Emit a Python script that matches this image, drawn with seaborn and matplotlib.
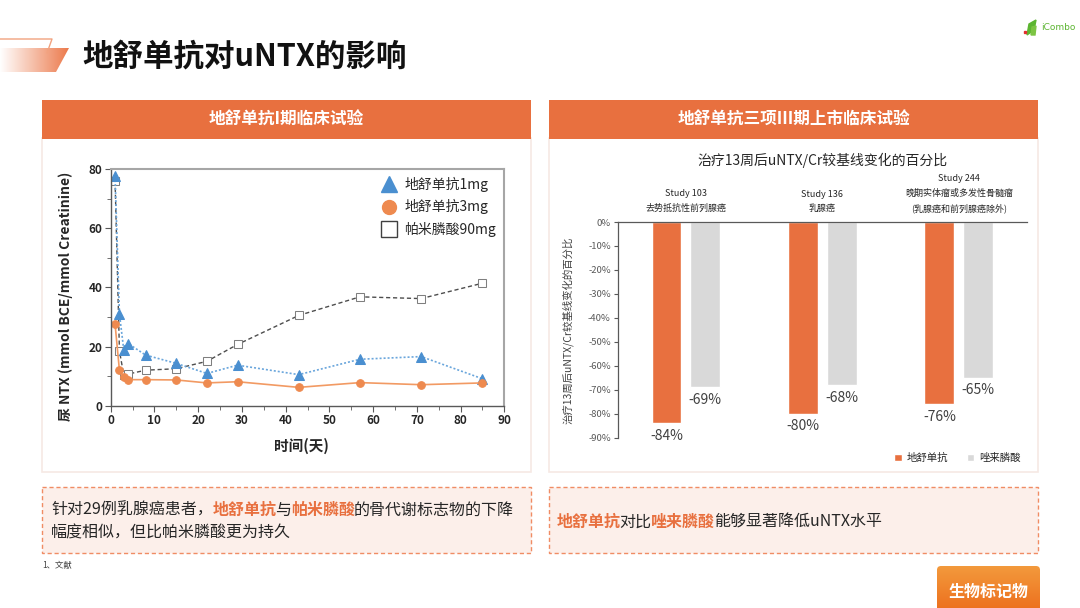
import numpy as np
import pandas as pd
import seaborn as sns
from matplotlib import pyplot as plt
from matplotlib.patches import Polygon, Rectangle, FancyBboxPatch, Patch
from matplotlib.lines import Line2D
from matplotlib.colors import LinearSegmentedColormap
from matplotlib.ticker import MultipleLocator, FuncFormatter

sns.set_style('white')
plt.rcParams['font.family'] = ['Noto Sans CJK SC', 'DejaVu Sans']
plt.rcParams['axes.unicode_minus'] = False

# %% data - phase I (left)
days = [1, 2, 3, 4, 8, 15, 22, 29, 43, 57, 71, 85]
dmab_1mg = [77.6, 31.0, 18.7, 21.0, 17.1, 14.3, 10.9, 13.7, 10.5, 15.7, 16.6, 9.1]
dmab_3mg = [27.5, 11.9, 9.8, 8.8, 8.8, 8.7, 7.7, 8.1, 6.2, 7.8, 7.1, 7.7]
pam_90mg = [76.0, 18.5, 10.3, 10.7, 12.0, 12.5, 15.0, 20.7, 30.5, 36.8, 36.2, 41.4]
left_series = ['地舒单抗1mg', '地舒单抗3mg', '帕米膦酸90mg']

# %% data - phase III (right)
studies = ['Study 103\n去势抵抗性前列腺癌',
           'Study 136\n乳腺癌',
           'Study 244\n晚期实体瘤或多发性骨髓瘤\n(乳腺癌和前列腺癌除外)']
drugs = ['地舒单抗', '唑来膦酸']
dmab_pct = [-84, -80, -76]
zol_pct = [-69, -68, -65]

ORANGE = '#E8703F'
GREY = '#D9D9D9'
W, H = 1080, 608

fig = plt.figure(figsize=(10.8, 6.08), dpi=100)
bg = fig.add_axes([0, 0, 1, 1])
bg.set_xlim(0, W)
bg.set_ylim(H, 0)
bg.axis('off')


def px_axes(x0, y0, x1, y1):
    return fig.add_axes([x0 / W, 1 - y1 / H, (x1 - x0) / W, (y1 - y0) / H])


def grad_fill(patch, c0, c1, horizontal=True):
    bg.add_patch(patch)
    patch.set_facecolor('none')
    patch.set_edgecolor('none')
    ext = patch.get_extents()
    (x0, y0), (x1, y1) = bg.transData.inverted().transform([[ext.x0, ext.y0], [ext.x1, ext.y1]])
    g = np.linspace(0, 1, 256)
    img = g[None, :] if horizontal else g[:, None]
    cmap = LinearSegmentedColormap.from_list('g', [c0, c1])
    im = bg.imshow(img, cmap=cmap, extent=[min(x0, x1), max(x0, x1), max(y0, y1), min(y0, y1)],
                   aspect='auto', zorder=1)
    im.set_clip_path(patch)
    bg.set_xlim(0, W)
    bg.set_ylim(H, 0)


# %% slide header
grad_fill(Polygon([(0, 48), (69, 48), (56, 72), (0, 72)]), '#ffffff', '#ec7a4c')
bg.plot([0, 52, 47], [39, 39, 53], color='#f2a27f', lw=1.0, zorder=2)
bg.text(82, 57, '地舒单抗对uNTX的影响', fontsize=22, fontweight='bold', color='#111111',
        va='center', ha='left')

# logo
bg.add_patch(Polygon([(1027, 35), (1029, 24), (1036, 20), (1034, 30)], color='#5cb531'))
bg.add_patch(Polygon([(1031, 35), (1032, 27), (1036, 26), (1035, 35)], color='#7cc443'))
bg.plot([1025], [32], 's', color='#e03030', ms=2)
bg.text(1041, 28, 'iCombo', fontsize=6.5, color='#5cb531', va='center', ha='left',
        family=['DejaVu Sans'])

# panels
for x0, x1, title in [(42, 531, '地舒单抗I期临床试验'),
                      (549, 1038, '地舒单抗三项III期上市临床试验')]:
    bg.add_patch(Rectangle((x0, 138), x1 - x0, 334, facecolor='white',
                           edgecolor='#f6e9e4', lw=1.2))
    bg.add_patch(Rectangle((x0, 100), x1 - x0, 38.5, facecolor=ORANGE, edgecolor='none'))
    bg.text((x0 + x1) / 2, 120, title, color='white', fontsize=12, fontweight='bold',
            ha='center', va='center')
    bg.add_patch(Rectangle((x0, 487), x1 - x0, 66, facecolor='#fcefea',
                           edgecolor='#f08c64', lw=1, linestyle=(0, (3, 2))))


def rich_line(x, y, parts, size):
    s, c, w = parts[0]
    t = bg.text(x, y, s, color=c, fontweight=w, fontsize=size, va='center', ha='left')
    prev_bold = w == 'bold'
    for s, c, w in parts[1:]:
        # bold CJK extents come out a little wide, pull the next piece back a bit
        shift = -1.2 if prev_bold else 0
        t = bg.annotate(s, xy=(1, 0.5), xycoords=t, xytext=(shift, 0),
                        textcoords='offset points', va='center', ha='left',
                        color=c, fontweight=w, fontsize=size)
        prev_bold = w == 'bold'


TXT = '#262626'
rich_line(51, 510, [('针对29例乳腺癌患者，', TXT, 'normal'), ('地舒单抗', ORANGE, 'bold'),
                    ('与', TXT, 'normal'), ('帕米膦酸', ORANGE, 'bold'),
                    ('的骨代谢标志物的下降', TXT, 'normal')], 11.5)
rich_line(51, 533, [('幅度相似，但比帕米膦酸更为持久', TXT, 'normal')], 11.5)
rich_line(557, 522, [('地舒单抗', ORANGE, 'bold'), ('对比', TXT, 'normal'),
                     ('唑来膦酸', ORANGE, 'bold'), ('能够显著降低uNTX水平', TXT, 'normal')], 11.5)
bg.text(42, 565, '1、文献', fontsize=6, color='#404040', va='center', ha='left')

# button
btn = FancyBboxPatch((937, 566), 103, 48, boxstyle='round,pad=0,rounding_size=4')
grad_fill(btn, '#f39a3c', '#ec6c1c', horizontal=False)
bg.text(988.5, 592, '生物标记物', color='white', fontsize=11.5, fontweight='bold',
        ha='center', va='center', zorder=3)

# %% left chart - phase I
dfLeft = pd.DataFrame({'day': days * 3,
                       'value': dmab_1mg + dmab_3mg + pam_90mg,
                       'group': np.repeat(left_series, len(days))})

ax1 = px_axes(110.7, 169, 504.3, 405.7)
LineStyles = {
    '地舒单抗1mg': dict(color='#6aa6dc', linestyle=(0, (1.2, 1.2)), lw=1.2, marker='^',
                     markersize=6.5, markerfacecolor='#4a8fd0', markeredgecolor='#4a8fd0'),
    '地舒单抗3mg': dict(color='#f29a63', linestyle='-', lw=1.2, marker='o',
                     markersize=5.5, markerfacecolor='#ee8a4f', markeredgecolor='#ee8a4f'),
    '帕米膦酸90mg': dict(color='#4d4d4d', linestyle=(0, (3, 2)), lw=1.0, marker='s',
                      markersize=5.5, markerfacecolor='white', markeredgecolor='#7f7f7f'),
}
for name in ['帕米膦酸90mg', '地舒单抗1mg', '地舒单抗3mg']:
    sns.lineplot(data=dfLeft.query('group == @name'), x='day', y='value', ax=ax1,
                 **LineStyles[name])

ax1.set_xlim(0, 90)
ax1.set_ylim(0, 80)
ax1.xaxis.set_major_locator(MultipleLocator(10))
ax1.xaxis.set_minor_locator(MultipleLocator(5))
ax1.yaxis.set_major_locator(MultipleLocator(20))
ax1.yaxis.set_minor_locator(MultipleLocator(10))
ax1.tick_params(which='both', direction='out', bottom=True, left=True, color='#595959')
ax1.tick_params(which='major', length=4, labelsize=8.5, pad=2, labelcolor='#262626')
ax1.tick_params(which='minor', length=3)
for lab in ax1.get_xticklabels() + ax1.get_yticklabels():
    lab.set_fontweight('bold')
for sp in ['left', 'bottom']:
    ax1.spines[sp].set_color('#595959')
    ax1.spines[sp].set_linewidth(1.0)
for sp in ['top', 'right']:
    ax1.spines[sp].set_color('#a6a6a6')
    ax1.spines[sp].set_linewidth(1.5)
ax1.set_xlabel('时间(天)', fontsize=10.5, fontweight='bold', color='#262626')
ax1.set_ylabel('尿 NTX (mmol BCE/mmol Creatinine)', fontsize=10, fontweight='bold',
               color='#262626')
ax1.xaxis.set_label_coords(0.485, -0.135)
ax1.yaxis.set_label_coords(-0.095, 0.46)

handles = [Line2D([], [], linestyle='none', marker='^', markersize=12,
                  markerfacecolor='#4a8fd0', markeredgecolor='#4a8fd0'),
           Line2D([], [], linestyle='none', marker='o', markersize=10,
                  markerfacecolor='#ee8a4f', markeredgecolor='#ee8a4f'),
           Line2D([], [], linestyle='none', marker='s', markersize=11,
                  markerfacecolor='white', markeredgecolor='#404040')]
ax1.legend(handles, left_series, loc='upper left', frameon=False, fontsize=10,
           bbox_to_anchor=(375 / W, 1 - 171 / H), bbox_transform=fig.transFigure,
           handlelength=1.2, handletextpad=0.5, labelspacing=0.55, borderaxespad=0)

# %% right chart - phase III
dfRight = pd.DataFrame({'study': studies * 2,
                        'drug': np.repeat(drugs, len(studies)),
                        'pct': dmab_pct + zol_pct})

ax2 = px_axes(617.7, 222, 1027, 437.7)
sns.barplot(data=dfRight, x='study', y='pct', hue='drug', hue_order=drugs,
            palette=[ORANGE, GREY], width=0.57, gap=0.23, ax=ax2, legend=False,
            saturation=1)
for cont in ax2.containers:
    ax2.bar_label(cont, fmt='{:.0f}%', padding=4, fontsize=10, color='#404040')

ax2.set_xlim(-0.5, 2.5)
ax2.set_ylim(-90, 0)
ax2.yaxis.set_major_locator(MultipleLocator(10))
ax2.yaxis.set_major_formatter(FuncFormatter(lambda v, p: f'{int(round(v))}%'))
ax2.set_xticks([0.5, 1.5])
ax2.set_xticklabels([])
ax2.xaxis.set_ticks_position('top')
ax2.tick_params(axis='x', direction='in', length=3, color='#595959')
ax2.tick_params(axis='y', left=True, direction='out', length=3, color='#595959',
                labelsize=6.8, labelcolor='#595959', pad=2)
sns.despine(ax=ax2, top=False, right=True, bottom=True, left=False)
for sp in ['left', 'top']:
    ax2.spines[sp].set_color('#595959')
    ax2.spines[sp].set_linewidth(0.9)
ax2.set_xlabel('')
ax2.set_ylabel('治疗13周后uNTX/Cr较基线变化的百分比', fontsize=7.5, color='#404040')
ax2.yaxis.set_label_coords(-0.109, 0.5)

trans = ax2.get_xaxis_transform()
for i, st in enumerate(studies):
    ax2.text(i, 1 + 9 / 215.7, st, transform=trans, ha='center', va='bottom',
             fontsize=6.5, color='#262626', linespacing=1.75)
ax2.set_title('治疗13周后uNTX/Cr较基线变化的百分比', fontsize=10, color='#262626',
              y=1 + (222 - 160) / 215.7, va='center', pad=0)

leg_handles = [Patch(facecolor=ORANGE), Patch(facecolor=GREY)]
fig.legend(leg_handles, drugs, loc='center left', frameon=False, fontsize=7.5,
           bbox_to_anchor=(885 / W, 1 - 458 / H), ncol=2, handlelength=0.7,
           handleheight=0.7, handletextpad=0.5, columnspacing=1.8)

fig.savefig('out.png', dpi=100)
